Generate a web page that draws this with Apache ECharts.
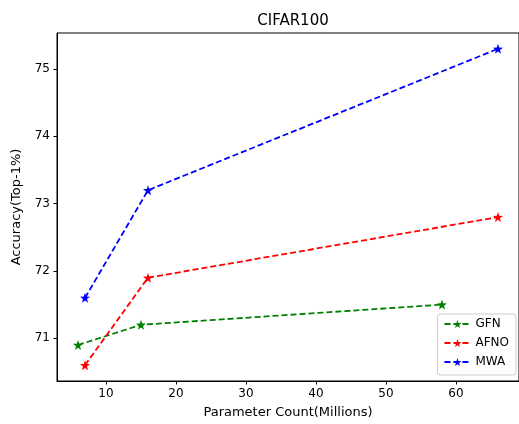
<!DOCTYPE html>
<html>
<head>
<meta charset="utf-8">
<script src="https://cdn.jsdelivr.net/npm/echarts@6/dist/echarts.min.js"></script>
<style>
  html, body { margin: 0; padding: 0; background: #fff; }
  #chart { width: 519px; height: 424px; }
</style>
</head>
<body>
<div id="chart"></div>
<script>
// data
var gfnX = [6, 15, 58];
var gfnY = [70.9, 71.2, 71.5];
var afnoX = [7, 16, 66];
var afnoY = [70.6, 71.9, 72.8];
var mwaX = [7, 16, 66];
var mwaY = [71.6, 73.2, 75.3];
var xTicks = [10, 20, 30, 40, 50, 60];
var yTicks = [71, 72, 73, 74, 75];

var star = "path://M0,-10L2.35,-3.24L9.51,-3.09L3.8,1.24L5.88,8.09L0,4L-5.88,8.09L-3.8,1.24L-9.51,-3.09L-2.35,-3.24Z";

function pairs(xs, ys) {
  return xs.map(function (x, i) { return [x, ys[i]]; });
}

function makeSeries(name, color, xs, ys) {
  return {
    name: name,
    type: "line",
    data: pairs(xs, ys),
    symbol: star,
    symbolSize: 10,
    itemStyle: { color: color },
    lineStyle: { color: color, width: 1.8, type: [6, 3] },
    emphasis: { disabled: true },
    animation: false
  };
}

var myChart = echarts.init(document.getElementById("chart"));
myChart.setOption({
  textStyle: { fontFamily: "DejaVu Sans" },
  title: {
    text: "CIFAR100",
    left: 288,
    textAlign: "center",
    top: 9,
    textStyle: { fontSize: 15, fontWeight: "normal", color: "#000" }
  },
  legend: {
    orient: "vertical",
    right: 3,
    bottom: 49,
    backgroundColor: "#fff",
    borderColor: "#ccc",
    borderWidth: 1,
    borderRadius: 3,
    padding: [4, 7, 7, 6],
    itemWidth: 26,
    itemHeight: 10,
    itemGap: 7,
    textStyle: { fontSize: 12, color: "#000" },
    data: ["GFN", "AFNO", "MWA"]
  },
  grid: {
    left: 57,
    top: 33,
    right: -4,
    bottom: 42,
    show: true,
    borderColor: "#000",
    borderWidth: 1,
    backgroundColor: "#fff"
  },
  xAxis: {
    type: "value",
    min: 3,
    max: 69,
    name: "Parameter Count(Millions)",
    nameLocation: "middle",
    nameGap: 25,
    nameTextStyle: { fontSize: 13, color: "#000" },
    splitLine: { show: false },
    axisLine: { show: true, lineStyle: { color: "#000" } },
    axisTick: { show: true, length: 3.5, lineStyle: { color: "#000" }, customValues: xTicks },
    axisLabel: { fontSize: 12, color: "#000", margin: 7, customValues: xTicks }
  },
  yAxis: {
    type: "value",
    min: 70.365,
    max: 75.535,
    name: "Accuracy(Top-1%)",
    nameLocation: "middle",
    nameGap: 34,
    nameTextStyle: { fontSize: 13, color: "#000" },
    splitLine: { show: false },
    axisLine: { show: true, lineStyle: { color: "#000" } },
    axisTick: { show: true, length: 3.5, lineStyle: { color: "#000" }, customValues: yTicks },
    axisLabel: { fontSize: 12, color: "#000", margin: 7, customValues: yTicks }
  },
  series: [
    makeSeries("GFN", "#008000", gfnX, gfnY),
    makeSeries("AFNO", "#ff0000", afnoX, afnoY),
    makeSeries("MWA", "#0000ff", mwaX, mwaY)
  ]
});
</script>
</body>
</html>
